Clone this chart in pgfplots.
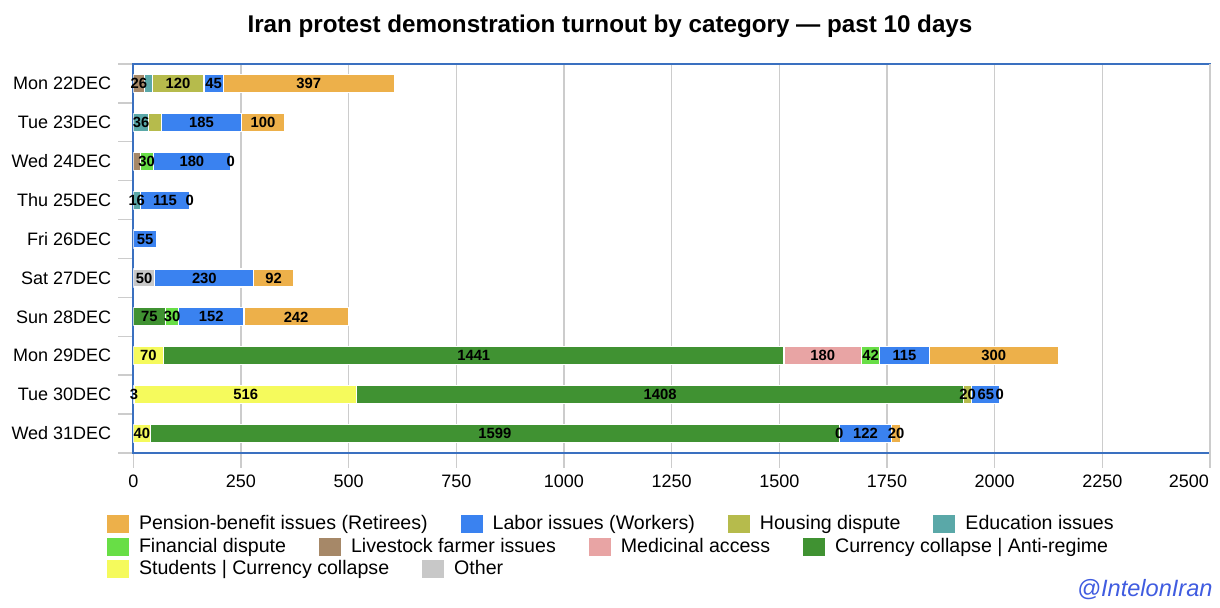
\documentclass[border=0pt]{standalone}
\usepackage{fontspec}
\setmainfont{Liberation Sans}
\usepackage{pgfplots}
\usepackage{pgfplotstable}
\pgfplotsset{compat=1.18}

\definecolor{pension}{RGB}{237,176,74}
\definecolor{labor}{RGB}{58,130,240}
\definecolor{housing}{RGB}{182,187,76}
\definecolor{education}{RGB}{90,168,168}
\definecolor{financial}{RGB}{104,222,70}
\definecolor{livestock}{RGB}{166,136,104}
\definecolor{medicinal}{RGB}{232,164,164}
\definecolor{currency}{RGB}{64,146,50}
\definecolor{students}{RGB}{245,250,92}
\definecolor{other}{RGB}{200,200,200}
\definecolor{frameblue}{RGB}{58,112,192}
\definecolor{tagblue}{RGB}{64,92,224}

% values per day (row 0 = Mon 22DEC), stacking order left to right;
% s... columns: 1 = the segment carries a value label
\pgfplotstableread{
row other students currency medicinal livestock financial education housing labor pension sOth sStu sCur sMed sLiv sFin sEdu sHou sLab sPen
0  0   0    0    0   26  0 18 120  45 397  0 0 0 0 1 0 0 1 1 1
1  0   0    0    0    0  0 36  30 185 100  0 0 0 0 0 0 1 0 1 1
2  0   0    0    0   16 30  0   0 180   0  0 0 0 0 0 1 0 0 1 1
3  0   0    0    0    0  0 16   0 115   0  0 0 0 0 0 0 1 0 1 1
4  0   0    0    0    0  0  0   0  55   0  0 0 0 0 0 0 0 0 1 0
5 50   0    0    0    0  0  0   0 230  92  1 0 0 0 0 0 0 0 1 1
6  0   0   75    0    0 30  0   0 152 242  0 0 1 0 0 1 0 0 1 1
7  0  70 1441  180    0 42  0   0 115 300  0 1 1 1 0 1 0 0 1 1
8  3 516 1408    0    0  0  0  20  65   0  1 1 1 0 0 0 0 1 1 1
9  0  40 1599    0    0  0  0   0 122  20  0 1 1 1 0 0 0 0 1 1
}\turnout

\pgfplotsset{
  geom/.style={
    at={(66.65pt,77.5pt)}, anchor=south west,
    scale only axis, width=538.35pt, height=194.5pt,
    xmin=0, xmax=2500, ymin=-0.5, ymax=9.5, y dir=reverse,
  },
  seg/.style={fill=#1, draw=white, line width=0.6pt},
  % label at the middle of its segment: half the value back from the stacked end
  lab/.style={draw=none, mark=none,
    visualization depends on={\thisrow{#1} \as \flag},
    visualization depends on={rawx \as \rawx},
    nodes near coords={\ifdim\flag pt>0.5pt \pgfmathprintnumber{\rawx}\fi},
    nodes near coords style={anchor=center, xshift={-0.10767pt*\rawx},
      font=\fontsize{7.4}{8}\selectfont\bfseries, text=black, inner sep=0pt},
  },
  legrow/.style={
    hide axis, scale only axis, width=1pt, height=1pt,
    xmin=0, xmax=1, ymin=0, ymax=1,
    anchor=west,
    legend columns=-1,
    legend image code/.code={\fill[##1, draw=none] (0pt,-4.5pt) rectangle (11pt,4.5pt);},
    legend style={at={(0,0.5)}, anchor=west, draw=none, fill=none,
      inner sep=0pt, outer sep=0pt,
      nodes={inner sep=0pt},
      font=\fontsize{9.8}{11}\selectfont,
      /tikz/every odd column/.append style={column sep=5pt},
      /tikz/every even column/.append style={column sep=16.5pt}},
    legend cell align=left,
  },
}

\begin{document}
\begin{tikzpicture}
\useasboundingbox (0,0) rectangle (610pt,304pt);
\begin{axis}[
  geom,
  xbar stacked, bar width=9pt,
  xtick={0,250,...,2250},
  extra x ticks={2500},
  extra x tick style={xticklabel style={anchor=north east, xshift=3pt}},
  ytick={0,...,9},
  yticklabels={Mon 22DEC,Tue 23DEC,Wed 24DEC,Thu 25DEC,Fri 26DEC,Sat 27DEC,Sun 28DEC,Mon 29DEC,Tue 30DEC,Wed 31DEC},
  minor ytick={-0.5,0.5,...,9.5},
  tick pos=left,
  xmajorgrids,
  major grid style={draw=black!20, line width=0.7pt},
  tick align=outside, major tick length=7.5pt, minor tick length=7.5pt,
  major x tick style={draw=black!20, line width=0.7pt},
  major y tick style={draw=none},
  minor y tick style={draw=black!20, line width=0.7pt},
  axis line style={draw=frameblue, line width=1.1pt},
  ticklabel style={font=\fontsize{9}{10}\selectfont},
  /pgf/number format/assume math mode=true,
  /pgf/number format/set thousands separator={},
]
\addplot[seg=other]     table[x=other, y=row] {\turnout};
\addplot[seg=students]  table[x=students, y=row] {\turnout};
\addplot[seg=currency]  table[x=currency, y=row] {\turnout};
\addplot[seg=medicinal] table[x=medicinal, y=row] {\turnout};
\addplot[seg=livestock] table[x=livestock, y=row] {\turnout};
\addplot[seg=financial] table[x=financial, y=row] {\turnout};
\addplot[seg=education] table[x=education, y=row] {\turnout};
\addplot[seg=housing]   table[x=housing, y=row] {\turnout};
\addplot[seg=labor]     table[x=labor, y=row] {\turnout};
\addplot[seg=pension]   table[x=pension, y=row] {\turnout};
\end{axis}

% same stack again, invisible, so that every value label lies above all bars
\begin{axis}[
  geom, hide axis, stack plots=x,
  /pgf/number format/assume math mode=true,
  /pgf/number format/set thousands separator={},
]
\addplot[lab=sOth] table[x=other, y=row] {\turnout};
\addplot[lab=sStu] table[x=students, y=row] {\turnout};
\addplot[lab=sCur] table[x=currency, y=row] {\turnout};
\addplot[lab=sMed] table[x=medicinal, y=row] {\turnout};
\addplot[lab=sLiv] table[x=livestock, y=row] {\turnout};
\addplot[lab=sFin] table[x=financial, y=row] {\turnout};
\addplot[lab=sEdu] table[x=education, y=row] {\turnout};
\addplot[lab=sHou] table[x=housing, y=row] {\turnout};
\addplot[lab=sLab] table[x=labor, y=row] {\turnout};
\addplot[lab=sPen] table[x=pension, y=row] {\turnout};
\end{axis}

\node[font=\fontsize{12.1}{14}\selectfont\bfseries] at (305pt,291pt)
  {Iran protest demonstration turnout by category — past 10 days};

\begin{axis}[legrow, at={(53.5pt,42pt)}]
\addlegendimage{fill=pension}\addlegendentry{Pension-benefit issues (Retirees)}
\addlegendimage{fill=labor}\addlegendentry{Labor issues (Workers)}
\addlegendimage{fill=housing}\addlegendentry{Housing dispute}
\addlegendimage{fill=education}\addlegendentry{Education issues}
\end{axis}
\begin{axis}[legrow, at={(53.5pt,30.5pt)}]
\addlegendimage{fill=financial}\addlegendentry{Financial dispute}
\addlegendimage{fill=livestock}\addlegendentry{Livestock farmer issues}
\addlegendimage{fill=medicinal}\addlegendentry{Medicinal access}
\addlegendimage{fill=currency}\addlegendentry{Currency collapse | Anti-regime}
\end{axis}
\begin{axis}[legrow, at={(53.5pt,19.5pt)}]
\addlegendimage{fill=students}\addlegendentry{Students | Currency collapse}
\addlegendimage{fill=other}\addlegendentry{Other}
\end{axis}

\node[anchor=east, inner sep=0pt, text=tagblue,
  font=\fontsize{11.8}{13}\selectfont\itshape] at (606.5pt,9pt) {@IntelonIran};
\end{tikzpicture}
\end{document}
